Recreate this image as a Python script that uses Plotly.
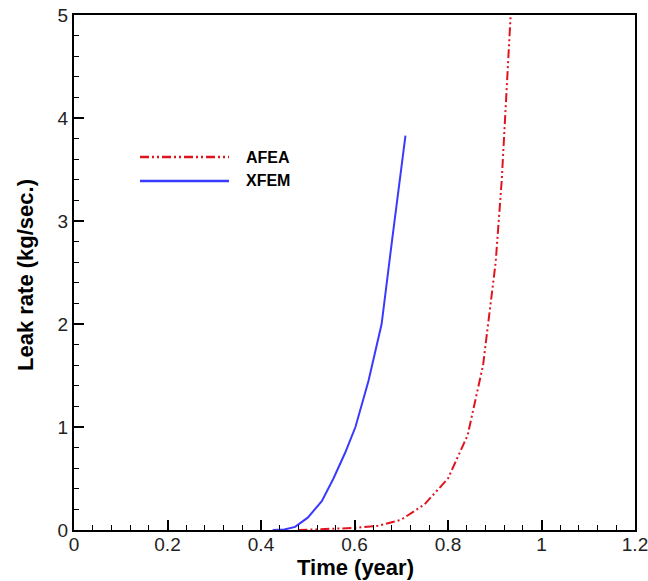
import plotly.graph_objects as go

afea_x = [0.48, 0.52, 0.56, 0.60, 0.65, 0.70, 0.75, 0.80, 0.842, 0.875, 0.902, 0.915, 0.934]
afea_y = [0.0, 0.005, 0.01, 0.02, 0.04, 0.10, 0.25, 0.50, 0.92, 1.6, 2.6, 3.4, 5.0]

xfem_x = [0.425, 0.45, 0.473, 0.50, 0.53, 0.555, 0.58, 0.602, 0.63, 0.658, 0.68, 0.709]
xfem_y = [0.0, 0.005, 0.03, 0.12, 0.28, 0.50, 0.75, 1.0, 1.45, 2.0, 2.8, 3.83]

x_ticks = [0, 0.2, 0.4, 0.6, 0.8, 1, 1.2]
x_ticktext = ["0", "0.2", "0.4", "0.6", "0.8", "1", "1.2"]
y_ticks = [0, 1, 2, 3, 4, 5]

legend_names = ["AFEA", "XFEM"]
red = "#e0141e"
blue = "#3a3aff"
dd = "9px,3px,2px,3px,2px,3px"
FONT = "Liberation Sans, Arial"

fig = go.Figure()
fig.add_trace(go.Scatter(x=afea_x, y=afea_y, mode="lines", name=legend_names[0],
                         line=dict(color=red, width=2, dash=dd), showlegend=False))
fig.add_trace(go.Scatter(x=xfem_x, y=xfem_y, mode="lines", name=legend_names[1],
                         line=dict(color=blue, width=2), showlegend=False))

W, H = 648, 581
ml, mr, mt, mb = 74, 13, 15, 51
pw, ph = W - ml - mr, H - mt - mb
def px(xp): return (xp - ml) / pw
def py(yp): return (H - mb - yp) / ph

# manual legend
for name, col, dash, yp in [(legend_names[0], red, dd, 157), (legend_names[1], blue, "solid", 181)]:
    fig.add_shape(type="line", xref="paper", yref="paper", x0=px(140), x1=px(229), y0=py(yp), y1=py(yp),
                  line=dict(color=col, width=2.5, dash=dash))
    fig.add_annotation(xref="paper", yref="paper", x=px(244), y=py(yp), text="<b>%s</b>" % name,
                       showarrow=False, xanchor="left", yanchor="middle",
                       font=dict(family=FONT, size=16, color="black"))

# axis titles
fig.add_annotation(xref="paper", yref="paper", x=px(355), y=py(567), text="<b>Time (year)</b>",
                   showarrow=False, xanchor="center", yanchor="middle",
                   font=dict(family=FONT, size=22, color="black"))
fig.add_annotation(xref="paper", yref="paper", x=px(25), y=py(275), text="<b>Leak rate (kg/sec.)</b>",
                   showarrow=False, xanchor="center", yanchor="middle", textangle=-90,
                   font=dict(family=FONT, size=22, color="black"))

axis_common = dict(showline=True, linecolor="black", linewidth=2, mirror=True,
                   ticks="inside", ticklen=10, tickwidth=2, tickcolor="black",
                   showgrid=False, zeroline=False, automargin=False,
                   ticklabeloverflow="allow",
                   tickfont=dict(family=FONT, size=19, color="#222222"))

fig.update_xaxes(range=[0, 1.2], tickmode="array", tickvals=x_ticks, ticktext=x_ticktext,
                 ticklabelstandoff=-4,
                 minor=dict(dtick=0.04, ticks="inside", ticklen=5, tickwidth=1, tickcolor="black"),
                 **axis_common)
fig.update_yaxes(range=[0, 5], tickmode="array", tickvals=y_ticks,
                 minor=dict(dtick=0.2, ticks="inside", ticklen=5, tickwidth=1, tickcolor="black"),
                 **axis_common)

fig.update_layout(width=W, height=H, margin=dict(l=ml, r=mr, t=mt, b=mb),
                  plot_bgcolor="white", paper_bgcolor="white")

fig.write_html("out.html")
